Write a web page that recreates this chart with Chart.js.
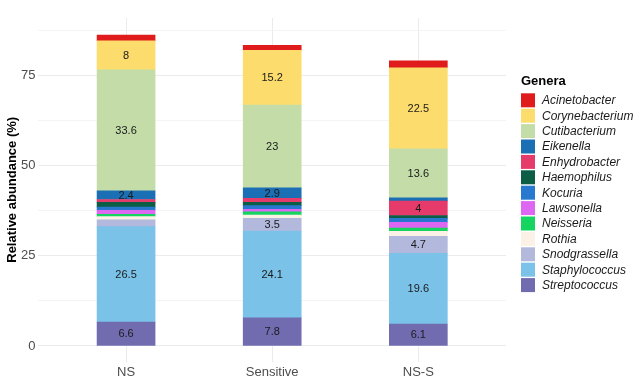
<!DOCTYPE html>
<html>
<head>
<meta charset="utf-8">
<script src="https://cdn.jsdelivr.net/npm/chart.js@4/dist/chart.umd.min.js"></script>
<style>
  html, body { margin: 0; padding: 0; background: #ffffff; }
  #wrap { width: 640px; height: 384px; position: relative; }
</style>
</head>
<body>
<div id="wrap"><canvas id="c" width="640" height="384"></canvas></div>
<script>
// ---- Data ----
const categories = ['NS', 'Sensitive', 'NS-S'];
const genera = ['Acinetobacter', 'Corynebacterium', 'Cutibacterium', 'Eikenella', 'Enhydrobacter',
  'Haemophilus', 'Kocuria', 'Lawsonella', 'Neisseria', 'Rothia', 'Snodgrassella',
  'Staphylococcus', 'Streptococcus'];
const acinetobacter   = [1.6, 1.4, 1.9];
const corynebacterium = [8, 15.2, 22.5];
const cutibacterium   = [33.6, 23, 13.6];
const eikenella       = [2.4, 2.9, 0.9];
const enhydrobacter   = [0.8, 1.1, 4];
const haemophilus     = [1.3, 0.9, 0.8];
const kocuria         = [0.9, 1.0, 1.1];
const lawsonella      = [1.1, 0.75, 1.6];
const neisseria       = [0.65, 0.9, 0.9];
const rothia          = [0.9, 0.9, 1.4];
const snodgrassella   = [1.9, 3.5, 4.7];
const staphylococcus  = [26.5, 24.1, 19.6];
const streptococcus   = [6.6, 7.8, 6.1];
const yTickValues = [0, 12.5, 25, 37.5, 50, 62.5, 75, 87.5];

const seriesValues = [acinetobacter, corynebacterium, cutibacterium, eikenella, enhydrobacter,
  haemophilus, kocuria, lawsonella, neisseria, rothia, snodgrassella, staphylococcus, streptococcus];
const colors = ['#E01B1B', '#FDDC6E', '#C4DDA8', '#1A6FB5', '#E63B6A', '#0B5D45', '#2878D0',
  '#DD66F2', '#15D460', '#FCF1E6', '#B3B9DD', '#7BC2E8', '#716CB0'];

// datasets stacked from bottom (Streptococcus) to top (Acinetobacter)
const datasets = [];
for (let g = genera.length - 1; g >= 0; g--) {
  datasets.push({
    label: genera[g],
    data: seriesValues[g].map((v, i) => ({ x: i, y: v })),
    backgroundColor: colors[g],
    borderWidth: 0,
    barThickness: 58
  });
}

Chart.defaults.font.family = "'Liberation Sans', Arial, sans-serif";

const valueLabels = {
  id: 'valueLabels',
  afterDatasetsDraw(chart) {
    const ctx = chart.ctx;
    ctx.save();
    ctx.font = "11px 'Liberation Sans', Arial, sans-serif";
    ctx.fillStyle = '#1a1a1a';
    ctx.textAlign = 'center';
    ctx.textBaseline = 'middle';
    chart.data.datasets.forEach((ds, i) => {
      const meta = chart.getDatasetMeta(i);
      meta.data.forEach((el, j) => {
        const v = ds.data[j].y;
        if (v >= 2) {
          ctx.fillText(String(v), el.x, (el.y + el.base) / 2 + 0.5);
        }
      });
    });
    ctx.restore();
  }
};

const customLegend = {
  id: 'customLegend',
  afterDraw(chart) {
    const ctx = chart.ctx;
    ctx.save();
    ctx.fillStyle = '#000000';
    ctx.font = "bold 13px 'Liberation Sans', Arial, sans-serif";
    ctx.textAlign = 'left';
    ctx.textBaseline = 'middle';
    ctx.fillText('Genera', 521, 81);
    ctx.font = "italic 12px 'Liberation Sans', Arial, sans-serif";
    genera.forEach((g, k) => {
      const cy = 100.3 + k * 15.4;
      ctx.fillStyle = colors[k];
      ctx.fillRect(521, cy - 7, 14, 14);
      ctx.fillStyle = '#1a1a1a';
      ctx.fillText(g, 542, cy + 0.5);
    });
    ctx.restore();
  }
};

new Chart(document.getElementById('c'), {
  type: 'bar',
  data: { datasets },
  plugins: [valueLabels, customLegend],
  options: {
    responsive: false,
    animation: false,
    layout: { padding: { top: 18, right: 134, bottom: 0, left: 0 } },
    plugins: { legend: { display: false }, tooltip: { enabled: false } },
    scales: {
      x: {
        type: 'linear',
        stacked: true,
        offset: false,
        min: -0.6,
        max: 2.6,
        afterBuildTicks: (s) => { s.ticks = [0, 1, 2].map(v => ({ value: v })); },
        afterFit: (s) => { s.height = 22.4; },
        ticks: {
          autoSkip: false,
          maxRotation: 0,
          padding: 3,
          color: '#4D4D4D',
          font: { size: 13 },
          callback: (v) => categories[v]
        },
        grid: { color: '#EBEBEB', drawTicks: false, offset: false },
        border: { display: false }
      },
      y: {
        stacked: true,
        min: -4.33,
        max: 91,
        afterBuildTicks: (s) => { s.ticks = yTickValues.map(v => ({ value: v })); },
        afterFit: (s) => { s.width = 38.4; },
        ticks: {
          padding: 3,
          color: '#4D4D4D',
          font: { size: 13 },
          callback: (v) => (v % 25 === 0 ? String(v) : '')
        },
        grid: {
          drawTicks: false,
          color: (c) => (c.tick && c.tick.value % 25 === 0 ? '#EBEBEB' : '#F4F4F4')
        },
        border: { display: false },
        title: {
          display: true,
          text: 'Relative abundance (%)',
          color: '#000000',
          font: { size: 13, weight: 'bold' },
          padding: { top: 5, bottom: 4 }
        }
      }
    }
  }
});
</script>
</body>
</html>
